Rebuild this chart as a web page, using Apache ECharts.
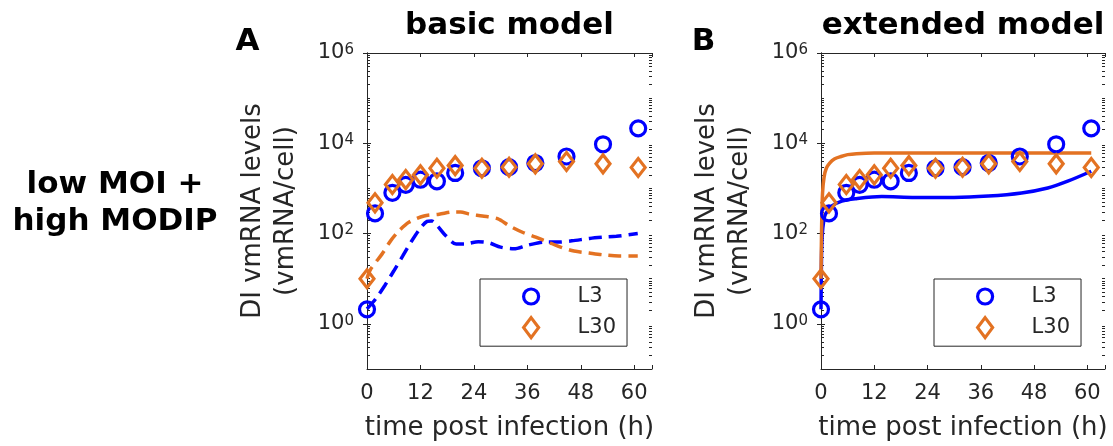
<!DOCTYPE html>
<html>
<head>
<meta charset="utf-8">
<script src="https://cdn.jsdelivr.net/npm/echarts@6/dist/echarts.min.js"></script>
<style>
  html, body { margin: 0; padding: 0; background: #fff; }
  #chart { width: 1113px; height: 446px; }
</style>
</head>
<body>
<div id="chart"></div>
<script>
// Measured DI vmRNA levels (vmRNA per cell) at the sampling times (h)
const sampleTimes = [0, 1.8, 5.7, 8.7, 12, 15.7, 19.8, 25.8, 31.9, 37.8, 44.8, 53, 60.9];
const l3Measured  = [2.1, 280, 800, 1200, 1560, 1440, 2200, 2800, 2960, 3650, 5100, 9500, 21400];
const l30Measured = [10, 480, 1220, 1570, 2000, 2800, 3200, 2800, 2950, 3500, 3950, 3500, 2900];

// Basic model simulations
const basicL3Times  = [0, 2, 4, 6, 8, 10, 12, 13.5, 14.5, 15.8, 17.7, 20, 22, 25, 27.5, 30, 33, 36, 40, 43, 46, 50, 53, 56, 60.8];
const basicL3       = [2.14, 3.63, 7.08, 14.8, 31.6, 67.6, 132, 186, 191, 148, 89, 59, 59, 66, 62, 50, 46, 55, 65, 65, 69, 78, 83, 87, 100];
const basicL30Times = [0, 0.75, 3.4, 5.3, 7.2, 9.4, 12.8, 16.2, 19.6, 21, 23, 25.9, 29.3, 32, 34.9, 37.9, 40.5, 43.5, 46.5, 49.9, 52.9, 56.6, 60.8];
const basicL30      = [10, 15.8, 35.5, 69, 115, 178, 245, 269, 302, 302, 269, 245, 214, 148, 107, 83, 66, 50, 41, 37, 34, 32, 32];

// Extended model simulations
const extL3Times  = [0, 0.12, 0.3, 0.6, 1, 2.5, 4.7, 7.7, 13.7, 21.2, 30, 37.7, 45.2, 51.1, 55.6, 60.9];
const extL3       = [2.1, 32, 100, 186, 270, 410, 525, 590, 660, 630, 630, 676, 794, 1023, 1445, 2400];
const extL30Times = [0, 0.15, 0.35, 0.7, 1.2, 2, 3, 4.5, 6, 8, 12, 20, 30, 40, 50, 60.9];
const extL30      = [10, 160, 800, 1800, 2800, 3700, 4500, 5100, 5600, 5900, 6100, 6100, 6100, 6100, 6100, 6100];

// Axis ticks
const xTickValues = [0, 12, 24, 36, 48, 60];
const yMajorValues = [1, 1e2, 1e4, 1e6];
const yMinorValues = [];
for (let e = -1; e <= 5; e++) {
  for (let m = 1; m <= 9; m++) {
    if (m === 1 && (e % 2 === 0 || e === -1)) continue;
    yMinorValues.push(m * Math.pow(10, e));
  }
}

const panelTitles = ['basic model', 'extended model'];
const panelLetters = ['A', 'B'];
const rowLabel = 'low MOI +\nhigh MODIP';
const seriesNames = ['L3', 'L30'];

const BLUE = '#0000ff';
const ORANGE = '#e37222';
const AXIS = '#262626';
const FONT = 'DejaVu Sans';

const grids = [
  { left: 367, top: 53, width: 285, height: 318 },
  { left: 821, top: 53, width: 284, height: 318 }
];

const pairs = (ts, vs) => ts.map((t, i) => [t, vs[i]]);

const xAxes = [], yAxes = [], series = [], legends = [];

grids.forEach((g, gi) => {
  const xBase = {
    gridIndex: gi, type: 'value', min: 0, max: 64, interval: 12,
    splitLine: { show: false },
    axisLine: { show: true, lineStyle: { color: AXIS, width: 1 } },
    axisTick: { show: true, inside: true, length: 4, lineStyle: { color: AXIS, width: 1 } }
  };
  xAxes.push(Object.assign({}, xBase, {
    position: 'bottom',
    axisLabel: {
      show: true, fontSize: 21, fontFamily: FONT, color: AXIS, margin: 14,
      formatter: v => (xTickValues.indexOf(v) >= 0 ? String(v) : '')
    },
    name: 'time post infection (h)', nameLocation: 'middle', nameGap: 46,
    nameTextStyle: { fontSize: 26, fontFamily: FONT, color: AXIS }
  }));
  xAxes.push(Object.assign({}, xBase, { position: 'top', axisLabel: { show: false } }));

  const yBase = {
    gridIndex: gi, type: 'log', logBase: 10, min: 0.1, max: 1e6, interval: 1,
    splitLine: { show: false }, minorTick: { show: false }
  };
  // labelled left axis with major ticks
  yAxes.push(Object.assign({}, yBase, {
    position: 'left',
    axisLine: { show: true, lineStyle: { color: AXIS, width: 1 } },
    axisTick: { show: true, inside: true, length: 4, customValues: yMajorValues, lineStyle: { color: AXIS } },
    axisLabel: {
      show: true, margin: 13, customValues: yMajorValues, color: AXIS, fontFamily: FONT,
      formatter: v => '{b|10}{s|' + Math.round(Math.log10(v)) + '}',
      rich: {
        b: { fontSize: 21, fontFamily: FONT, color: AXIS, lineHeight: 21, verticalAlign: 'bottom' },
        s: { fontSize: 15, fontFamily: FONT, color: AXIS, lineHeight: 21, verticalAlign: 'top' }
      },
      lineHeight: 32
    },
    name: 'DI vmRNA levels\n(vmRNA/cell)', nameLocation: 'middle', nameGap: 64, nameRotate: 90,
    nameTextStyle: { fontSize: 26, fontFamily: FONT, color: AXIS, lineHeight: 33 }
  }));
  // right frame with major ticks
  yAxes.push(Object.assign({}, yBase, {
    position: 'right',
    axisLine: { show: true, lineStyle: { color: AXIS, width: 1 } },
    axisTick: { show: true, inside: true, length: 4, customValues: yMajorValues, lineStyle: { color: AXIS } },
    axisLabel: { show: false }
  }));
  // minor ticks, left and right
  ['left', 'right'].forEach(pos => {
    yAxes.push(Object.assign({}, yBase, {
      position: pos,
      axisLine: { show: false },
      axisTick: { show: true, inside: true, length: 3, customValues: yMinorValues, lineStyle: { color: AXIS } },
      axisLabel: { show: false }
    }));
  });

  const xi = gi * 2, yi = gi * 4;
  const dashed = gi === 0;
  const modelL3 = gi === 0 ? pairs(basicL3Times, basicL3) : pairs(extL3Times, extL3);
  const modelL30 = gi === 0 ? pairs(basicL30Times, basicL30) : pairs(extL30Times, extL30);
  const lineOpts = (name, data, color) => ({
    name, type: 'line', xAxisIndex: xi, yAxisIndex: yi, data,
    showSymbol: false, smooth: 0.3, clip: false, z: 2, silent: true,
    lineStyle: { color, width: 3.5, opacity: 1, type: dashed ? [13, 7] : 'solid' }
  });
  series.push(lineOpts(seriesNames[0] + ' ' + panelTitles[gi], modelL3, BLUE));
  series.push(lineOpts(seriesNames[1] + ' ' + panelTitles[gi], modelL30, ORANGE));

  series.push({
    name: seriesNames[0], type: 'scatter', xAxisIndex: xi, yAxisIndex: yi,
    data: pairs(sampleTimes, l3Measured), symbol: 'circle', symbolSize: 15, clip: false, z: 3,
    itemStyle: { color: 'rgba(0,0,0,0)', borderColor: BLUE, borderWidth: 3.2, opacity: 1 }
  });
  series.push({
    name: seriesNames[1], type: 'scatter', xAxisIndex: xi, yAxisIndex: yi,
    data: pairs(sampleTimes, l30Measured), symbol: 'diamond', symbolSize: [14, 18], clip: false, z: 3,
    itemStyle: { color: 'rgba(0,0,0,0)', borderColor: ORANGE, borderWidth: 3.2, opacity: 1 }
  });

  legends.push({
    data: seriesNames, orient: 'vertical',
    left: g.left + 113, top: 279,
    padding: [7, 11, 7, 42], itemWidth: 15, itemHeight: 20, itemGap: 9,
    symbolKeepAspect: false,
    borderColor: AXIS, borderWidth: 1, backgroundColor: '#fff',
    itemStyle: { borderWidth: 3.2, opacity: 1 },
    textStyle: { fontSize: 21, fontFamily: FONT, color: AXIS, padding: [0, 0, 0, 34] },
    selectedMode: false
  });
});

const titleStyle = { fontSize: 31, fontWeight: 'bold', fontFamily: FONT, color: '#000' };
const titles = [
  { text: panelTitles[0], left: 509.5, top: 10, textAlign: 'center', padding: 0, textStyle: titleStyle },
  { text: panelTitles[1], left: 963, top: 10, textAlign: 'center', padding: 0, textStyle: titleStyle },
  { text: panelLetters[0], left: 247.5, top: 26, textAlign: 'center', padding: 0, textStyle: titleStyle },
  { text: panelLetters[1], left: 703.5, top: 26, textAlign: 'center', padding: 0, textStyle: titleStyle },
  { text: rowLabel, left: 115, top: 166, textAlign: 'center', padding: 0,
    textStyle: Object.assign({}, titleStyle, { lineHeight: 37 }) }
];

const chart = echarts.init(document.getElementById('chart'), null, { renderer: 'canvas' });
chart.setOption({
  animation: false,
  backgroundColor: '#fff',
  title: titles,
  grid: grids,
  xAxis: xAxes,
  yAxis: yAxes,
  legend: legends,
  series
});
</script>
</body>
</html>
